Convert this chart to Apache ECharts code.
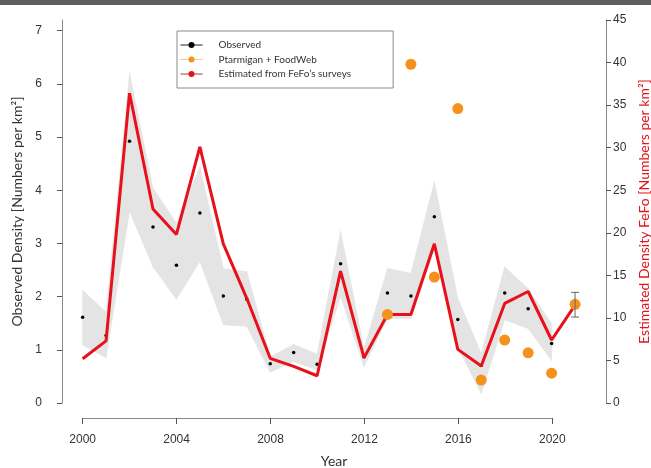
<!DOCTYPE html>
<html>
<head>
<meta charset="utf-8">
<script src="https://cdn.jsdelivr.net/npm/echarts@6/dist/echarts.min.js"></script>
<style>
  * { margin: 0; padding: 0; }
  html, body { background: #fff; }
  #chart-container { width: 651px; height: 468px; }
</style>
</head>
<body>
<div id="chart-container"></div>
<script>
  // years 2000 .. 2021
  var years = [2000, 2001, 2002, 2003, 2004, 2005, 2006, 2007, 2008, 2009, 2010,
               2011, 2012, 2013, 2014, 2015, 2016, 2017, 2018, 2019, 2020, 2021]

  // observed density (left axis), no value for 2021
  var observed = [1.61, 1.27, 4.92, 3.31, 2.59, 3.57, 2.01, 1.95, 0.74, 0.95, 0.73,
                  2.62, 0.87, 2.07, 2.01, 3.50, 1.57, 0.71, 2.07, 1.77, 1.12, null]
  // grey confidence band round the observed values (left axis)
  var bandLow = [1.09, 0.85, 3.60, 2.56, 1.95, 2.66, 1.47, 1.44, 0.58, 0.78, 0.62,
                 2.00, 0.68, 1.59, 1.59, 2.88, 1.05, 0.18, 1.56, 1.40, 0.80, null]
  var bandHigh = [2.12, 1.71, 6.20, 4.04, 3.38, 4.44, 2.53, 2.47, 0.87, 1.10, 0.92,
                  3.23, 1.02, 2.53, 2.44, 4.16, 1.97, 0.93, 2.56, 2.15, 1.49, null]

  // estimated from FeFo's surveys (right axis)
  var fefo = [5.2, 7.3, 36.4, 22.8, 19.8, 30.1, 18.7, 12.3, 5.25, 4.3, 3.2,
              15.5, 5.3, 10.4, 10.4, 18.7, 6.3, 4.35, 11.7, 13.1, 7.4, 11.5]

  // Ptarmigan + FoodWeb (right axis), only from 2013
  var ptarmigan = [null, null, null, null, null, null, null, null, null, null, null,
                   null, null, 10.4, 39.8, 14.8, 34.6, 2.7, 7.4, 5.9, 3.5, 11.6]

  // error bar for 2021 (right axis)
  var errYear = 2021
  var errLow = 10.1
  var errHigh = 13.0

  var leftTicks = [0, 1, 2, 3, 4, 5, 6, 7]

  function pairs(vals) {
    return years.map(function (y, i) { return [y, vals[i]] })
  }
  // one band segment per pair of neighbouring years
  var bandSegs = []
  for (var i = 0; i < years.length - 1; i++) {
    if (bandLow[i] != null && bandLow[i + 1] != null) {
      bandSegs.push([years[i], bandLow[i], bandHigh[i], years[i + 1], bandLow[i + 1], bandHigh[i + 1]])
    }
  }

  var chartDom = document.getElementById('chart-container')
  var myChart = echarts.init(chartDom, null, { renderer: 'canvas' })

  var axisGrey = '#888'
  var labelFont = { color: '#333', fontSize: 12, fontFamily: 'Liberation Sans, Arial, sans-serif' }
  var nameFont = 'Lato, Noto Sans, sans-serif'
  var bandColor = '#e4e4e4'

  var option = {
    animation: false,
    backgroundColor: '#fff',
    graphic: [
      { type: 'rect', left: 0, top: 0, shape: { width: 651, height: 5 }, style: { fill: '#5e5e5e' } }
    ],
    legend: {
      orient: 'vertical',
      left: 177,
      top: 31,
      padding: [9, 42, 9, 3],
      itemWidth: 22,
      itemHeight: 7.5,
      itemGap: 4.5,
      borderColor: '#8a8a8a',
      borderWidth: 1,
      backgroundColor: '#fff',
      textStyle: { fontSize: 10, color: '#333', fontFamily: nameFont, padding: [0, 0, 0, 11] },
      data: [
        { name: 'Observed', lineStyle: { color: '#222', width: 1, opacity: 1 }, itemStyle: { color: '#000' } },
        { name: 'Ptarmigan + FoodWeb', lineStyle: { color: '#e9c9a0', width: 1, opacity: 1 }, itemStyle: { color: '#f5921e' } },
        { name: 'Estimated from FeFo\u2019s surveys', lineStyle: { color: '#a04040', width: 1, opacity: 1 }, itemStyle: { color: '#e8101a' } }
      ]
    },
    grid: [
      { left: 62, right: 45, top: 20, height: 383, outerBoundsMode: 'none' },
      { left: 82.7, right: 98.7, top: 400, height: 18, outerBoundsMode: 'none' }
    ],
    xAxis: [
      {
        type: 'value', gridIndex: 0, min: 1999.12, max: 2022.32,
        axisLine: { show: false }, axisTick: { show: false }, axisLabel: { show: false },
        splitLine: { show: false },
        name: 'Year', nameLocation: 'middle', nameGap: 51,
        nameTextStyle: { fontSize: 14, color: '#333', fontFamily: nameFont }
      },
      {
        type: 'value', gridIndex: 1, min: 2000, max: 2020, interval: 4,
        axisLine: { lineStyle: { color: axisGrey } },
        axisTick: { length: 6, lineStyle: { color: '#555' } },
        axisLabel: Object.assign({ margin: 16, formatter: function (v) { return String(v) } }, labelFont),
        splitLine: { show: false }
      }
    ],
    yAxis: [
      {
        type: 'value', gridIndex: 0, min: 0, max: 7.2, position: 'left',
        axisLine: { show: true, lineStyle: { color: axisGrey } },
        axisTick: { show: true, length: 5, customValues: leftTicks, lineStyle: { color: '#555' } },
        axisLabel: Object.assign({ margin: 20, customValues: leftTicks }, labelFont),
        splitLine: { show: false },
        name: 'Observed Density [Numbers per km\u00b2]', nameLocation: 'middle', nameGap: 38, nameRotate: 90,
        nameTextStyle: { fontSize: 14, color: '#333', fontFamily: nameFont }
      },
      {
        type: 'value', gridIndex: 0, min: 0, max: 45, interval: 5, position: 'right',
        axisLine: { show: true, lineStyle: { color: axisGrey } },
        axisTick: { show: true, length: 5, lineStyle: { color: '#555' } },
        axisLabel: Object.assign({ margin: 7 }, labelFont),
        splitLine: { show: false },
        name: 'Estimated Density FeFo [Numbers per km\u00b2]', nameLocation: 'middle', nameGap: 30, nameRotate: 90,
        nameTextStyle: { fontSize: 14, color: '#e2141c', fontFamily: nameFont }
      },
      { type: 'value', gridIndex: 1, show: false }
    ],
    series: [
      {
        name: 'band', type: 'custom', xAxisIndex: 0, yAxisIndex: 0, z: 1, silent: true,
        data: bandSegs,
        renderItem: function (params, api) {
          var a = api.coord([api.value(0), api.value(2)])
          var b = api.coord([api.value(3), api.value(5)])
          var c = api.coord([api.value(3), api.value(4)])
          var d = api.coord([api.value(0), api.value(1)])
          return {
            type: 'polygon',
            shape: { points: [a, b, c, d] },
            style: { fill: bandColor, stroke: bandColor, lineWidth: 0.6 }
          }
        }
      },
      {
        name: 'Observed', type: 'line', xAxisIndex: 0, yAxisIndex: 0,
        data: pairs(observed), symbol: 'circle', symbolSize: 3.5, showSymbol: true,
        itemStyle: { color: '#000' }, lineStyle: { opacity: 0 }, z: 3
      },
      {
        name: 'Estimated from FeFo\u2019s surveys', type: 'line', xAxisIndex: 0, yAxisIndex: 1,
        data: pairs(fefo), symbol: 'none',
        itemStyle: { color: '#e8101a' }, lineStyle: { color: '#e8101a', width: 3 }, z: 4
      },
      {
        name: 'Ptarmigan + FoodWeb', type: 'line', xAxisIndex: 0, yAxisIndex: 1,
        data: pairs(ptarmigan), symbol: 'circle', symbolSize: 11, showSymbol: true,
        itemStyle: { color: '#f5921e' }, lineStyle: { opacity: 0 }, z: 5
      },
      {
        name: 'errorbar', type: 'custom', xAxisIndex: 0, yAxisIndex: 1, z: 6,
        data: [[errYear, errLow, errHigh]],
        renderItem: function (params, api) {
          var lo = api.coord([api.value(0), api.value(1)])
          var hi = api.coord([api.value(0), api.value(2)])
          var w = 4
          var st = { stroke: '#666', lineWidth: 1 }
          return {
            type: 'group',
            children: [
              { type: 'line', shape: { x1: lo[0], y1: lo[1], x2: hi[0], y2: hi[1] }, style: st },
              { type: 'line', shape: { x1: lo[0] - w, y1: lo[1], x2: lo[0] + w, y2: lo[1] }, style: st },
              { type: 'line', shape: { x1: hi[0] - w, y1: hi[1], x2: hi[0] + w, y2: hi[1] }, style: st }
            ]
          }
        }
      }
    ]
  }

  myChart.setOption(option)
  window.addEventListener('resize', myChart.resize)
</script>
</body>
</html>
